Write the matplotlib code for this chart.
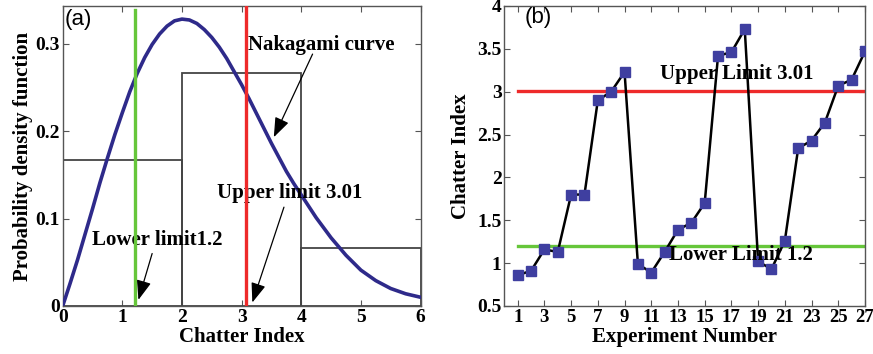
import matplotlib
matplotlib.use('Agg')
import matplotlib.pyplot as plt
import numpy as np

# (a) histogram bins + fitted Nakagami curve
bin_edges = [0, 2, 4]
bin_heights = [0.1667, 0.2667, 0.0667]
curve_x = [0, 0.125, 0.25, 0.375, 0.5, 0.625, 0.75, 0.875, 1.0, 1.125, 1.25, 1.375,
           1.5, 1.625, 1.75, 1.875, 2.0, 2.125, 2.25, 2.375, 2.5, 2.625, 2.75,
           2.875, 3.0, 3.125, 3.25, 3.375, 3.5, 3.625, 3.75, 3.875, 4.0, 4.25,
           4.5, 4.75, 5.0, 5.25, 5.5, 5.75, 6.0]
curve_y = [0, 0.026, 0.053, 0.082, 0.111, 0.141, 0.169, 0.196, 0.221, 0.245, 0.266,
           0.284, 0.299, 0.311, 0.320, 0.326, 0.328, 0.327, 0.323, 0.316, 0.307,
           0.296, 0.283, 0.268, 0.253, 0.237, 0.220, 0.203, 0.186, 0.170, 0.154,
           0.140, 0.127, 0.101, 0.078, 0.058, 0.041, 0.029, 0.020, 0.014, 0.010]
lower_x = 1.22
upper_x = 3.07

# (b) chatter index per experiment
exp_no = list(range(1, 28))
chatter = [0.86, 0.91, 1.16, 1.13, 1.80, 1.80, 2.90, 3.00, 3.23, 0.99, 0.89, 1.13,
           1.39, 1.47, 1.70, 3.42, 3.46, 3.73, 1.02, 0.93, 1.26, 2.34, 2.43, 2.64,
           3.07, 3.14, 3.47]
upper_lim = 3.01
lower_lim = 1.2

serif = ['Liberation Serif', 'DejaVu Serif']
labfont = dict(family=serif, weight='bold', size=15)
spine_c = '#555555'

fig = plt.figure(figsize=(8.73, 3.54), dpi=100)
ax1 = fig.add_axes([0.0718, 0.1356, 0.4099, 0.8475])
ax2 = fig.add_axes([0.5777, 0.1356, 0.4131, 0.8475])


def style(ax):
    for s in ax.spines.values():
        s.set_color(spine_c)
        s.set_linewidth(1.0)
    ax.tick_params(direction='in', top=True, right=True, length=4, color=spine_c,
                   pad=2)
    for lab in ax.get_xticklabels() + ax.get_yticklabels():
        lab.set_fontfamily(serif)
        lab.set_fontweight('bold')
        lab.set_fontsize(14)


# ---- panel (a)
ax1.bar(bin_edges, bin_heights, width=2, align='edge', facecolor='none',
        edgecolor='#444444', linewidth=1.3, zorder=2)
ax1.plot(curve_x, curve_y, color='#2E2A8A', linewidth=2.6, zorder=3,
         solid_joinstyle='round')
ax1.plot([lower_x, lower_x], [0, 0.338], color='#66C63A', linewidth=2.4, zorder=4)
ax1.plot([upper_x, upper_x], [0, 0.342], color='#EE2A2A', linewidth=2.4, zorder=4)
ax1.set_xlim(0, 6)
ax1.set_ylim(0, 0.343)
ax1.set_xticks([0, 1, 2, 3, 4, 5, 6])
ax1.set_yticks([0, 0.1, 0.2, 0.3])
ax1.set_yticklabels(['0', '0.1', '0.2', '0.3'])
ax1.set_xlabel('Chatter Index', fontdict=labfont, labelpad=1)
ax1.set_ylabel('Probability density function', fontdict=labfont, labelpad=2)
style(ax1)

arr = dict(arrowstyle='-|>,head_length=1.2,head_width=0.45', color='black',
           linewidth=0.9, shrinkA=0, shrinkB=0)
ax1.annotate('', xy=(3.54, 0.193), xytext=(4.19, 0.288), arrowprops=arr, zorder=5)
ax1.text(4.33, 0.298, 'Nakagami curve', ha='center', va='center', **labfont)
ax1.annotate('', xy=(3.18, 0.004), xytext=(3.71, 0.113), arrowprops=arr, zorder=5)
ax1.text(3.80, 0.129, 'Upper limit 3.01', ha='center', va='center', **labfont)
ax1.annotate('', xy=(1.27, 0.007), xytext=(1.50, 0.060), arrowprops=arr, zorder=5)
ax1.text(1.58, 0.075, 'Lower limit1.2', ha='center', va='center', **labfont)
ax1.text(0.04, 0.328, '(a)', ha='left', va='center', fontsize=16,
         family='Liberation Sans')

# ---- panel (b)
ax2.plot(exp_no, chatter, color='black', linewidth=1.8, marker='s',
         markersize=7, markerfacecolor='#3F3FA0', markeredgecolor='#3F3FA0',
         zorder=3)
ax2.plot([1, 27], [upper_lim, upper_lim], color='#EE2A2A', linewidth=2.4, zorder=2)
ax2.plot([1, 27], [lower_lim, lower_lim], color='#66C63A', linewidth=2.4, zorder=2)
ax2.set_xlim(0, 27)
ax2.set_ylim(0.5, 4)
ax2.set_xticks(list(range(1, 28, 2)))
ax2.set_yticks([0.5, 1, 1.5, 2, 2.5, 3, 3.5, 4])
ax2.set_yticklabels(['0.5', '1', '1.5', '2', '2.5', '3', '3.5', '4'])
ax2.set_xlabel('Experiment Number', fontdict=labfont, labelpad=1)
ax2.set_ylabel('Chatter Index', fontdict=labfont, labelpad=4)
style(ax2)
for lab in ax2.get_xticklabels():
    lab.set_fontsize(13.5)
ax2.text(11.65, 3.21, 'Upper Limit 3.01', ha='left', va='center', zorder=4, **labfont)
ax2.text(12.34, 1.095, 'Lower Limit 1.2', ha='left', va='center', zorder=4, **labfont)
ax2.text(1.5, 3.86, '(b)', ha='left', va='center', fontsize=16,
         family='Liberation Sans')

plt.savefig('out.png', dpi=100)
